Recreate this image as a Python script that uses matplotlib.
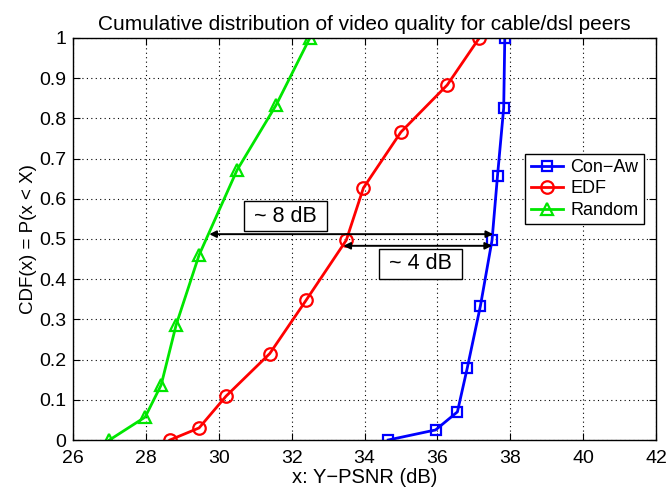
import numpy as np
import matplotlib.pyplot as plt

plt.rcParams["font.family"] = ["Liberation Sans", "DejaVu Sans"]

# Y-PSNR (dB) vs CDF for each scheduling scheme
conaw_x = [34.65, 35.95, 36.55, 36.82, 37.18, 37.50, 37.65, 37.82, 37.85]
conaw_y = [0.0, 0.025, 0.07, 0.179, 0.333, 0.497, 0.657, 0.826, 1.0]

edf_x = [28.66, 29.46, 30.20, 31.40, 32.40, 33.50, 33.97, 35.00, 36.27, 37.15]
edf_y = [0.0, 0.03, 0.109, 0.215, 0.348, 0.497, 0.627, 0.766, 0.883, 1.0]

rand_x = [27.00, 27.98, 28.42, 28.83, 29.46, 30.50, 31.58, 32.50]
rand_y = [0.0, 0.057, 0.137, 0.286, 0.46, 0.671, 0.834, 1.0]

# gap annotations: (left x, right x, y, label, label x, label y)
gaps = [
    (29.74, 37.53, 0.512, " ~ 8 dB ", 31.83, 0.557),
    (33.42, 37.50, 0.483, " ~ 4 dB ", 35.53, 0.438),
]

fig = plt.figure(figsize=(6.66, 4.93), dpi=100)
ax = fig.add_axes([0.1096, 0.1075, 0.8754, 0.8155])

ax.plot(conaw_x, conaw_y, color="#0000ff", lw=2, marker="s", ms=7,
        mfc="none", mew=1.6, label="Con\u2212Aw")
ax.plot(edf_x, edf_y, color="#ff0000", lw=2, marker="o", ms=9,
        mfc="none", mew=1.6, label="EDF")
ax.plot(rand_x, rand_y, color="#00e600", lw=2, marker="^", ms=9,
        mfc="none", mew=1.6, label="Random")

for x0, x1, y, txt, tx, ty in gaps:
    ax.annotate("", xy=(x0, y), xytext=(x1, y),
                arrowprops=dict(arrowstyle="<|-|>", color="black", lw=1.4,
                                mutation_scale=10, shrinkA=0, shrinkB=0))
    ax.text(tx, ty, txt, ha="center", va="center", fontsize=15.5,
            bbox=dict(boxstyle="square,pad=0.2", fc="white", ec="black", lw=1))

ax.set_xlim(26, 42)
ax.set_ylim(0, 1)
ax.set_xticks(np.arange(26, 43, 2))
ax.set_yticks(np.arange(0, 1.01, 0.1))
ax.set_yticklabels(["0", "0.1", "0.2", "0.3", "0.4", "0.5", "0.6", "0.7", "0.8", "0.9", "1"])
ax.grid(True, color="black", ls=(0, (1, 3)), lw=0.8)
ax.tick_params(direction="in", top=True, right=True, labelsize=14, length=5)
ax.tick_params(axis="x", pad=7)
ax.tick_params(axis="y", pad=5)
for s in ax.spines.values():
    s.set_linewidth(1)

ax.set_title("Cumulative distribution of video quality for cable/dsl peers", fontsize=15)
ax.set_xlabel("x: Y\u2212PSNR (dB)", fontsize=14.5, labelpad=1)
ax.set_ylabel("CDF(x) = P(x < X)", fontsize=13.5, labelpad=1)

leg = ax.legend(loc="upper left", bbox_to_anchor=(0.76, 0.735), fontsize=13,
                fancybox=False, edgecolor="black", framealpha=1,
                handlelength=1.8, borderpad=0.3, labelspacing=0.25, handletextpad=0.4)
leg.get_frame().set_linewidth(1)

fig.savefig("out.png", dpi=100)
